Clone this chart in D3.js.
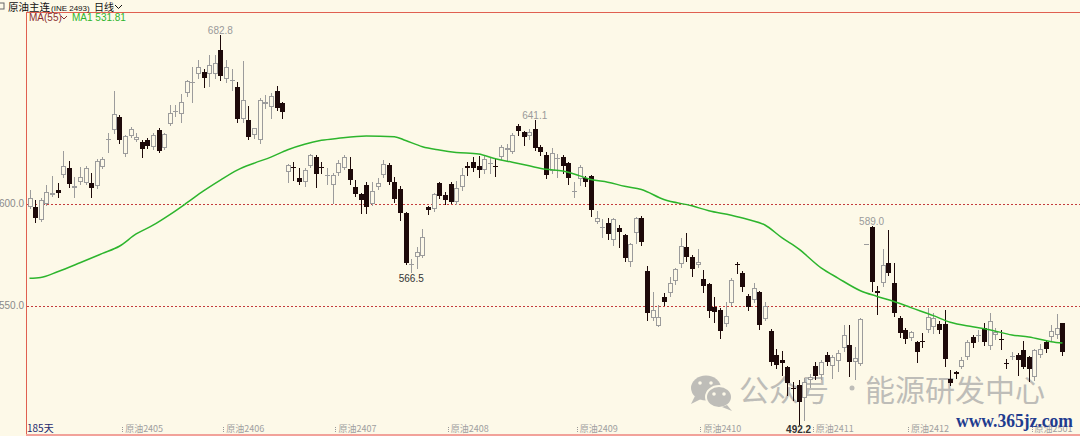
<!DOCTYPE html>
<html><head><meta charset="utf-8">
<script src="https://cdn.jsdelivr.net/npm/d3@7"></script>
<style>html,body{margin:0;padding:0;background:#fdf9e8;}svg{display:block}</style>
</head><body><svg id="c" width="1080" height="436"></svg>
<script>
// ---- data ----
const openV = [
598.4,598.4,592.2,599.8,604.4,606.9,614.0,617.8,608.0,610.6,
610.3,610.1,609.0,618.3,631.4,636.3,642.5,624.3,633.5,631.6,
630.5,631.4,627.8,636.3,627.6,639.4,645.0,644.2,654.4,659.3,
663.5,664.7,663.6,663.5,675.3,661.1,660.6,657.4,641.6,641.2,
634.0,631.4,649.0,647.4,655.6,649.3,615.5,618.3,612.9,610.6,
618.6,623.2,618.3,613.7,609.5,615.4,617.8,617.0,608.3,604.7,
609.3,600.0,608.5,614.2,619.1,611.0,607.2,595.4,570.4,574.2,
574.5,598.4,597.4,610.1,604.4,609.8,601.1,608.5,618.6,620.4,
618.8,616.7,619.7,618.8,623.2,626.5,625.6,638.2,635.1,633.5,
636.8,628.1,624.0,616.3,621.9,623.2,619.9,606.0,612.1,612.6,
613.7,591.3,588.5,590.8,582.4,588.4,584.8,571.7,585.6,593.3,
567.3,544.0,540.2,554.6,556.2,562.3,570.4,579.1,573.9,570.1,
563.1,560.6,549.7,548.0,541.2,551.3,570.4,566.3,554.9,552.9,
556.7,543.6,537.9,526.0,523.5,520.0,510.0,511.3,504.7,513.5,
520.8,516.2,526.0,520.8,523.2,529.6,530.9,522.7,521.6,580.2,
588.9,557.5,561.4,570.9,561.4,544.3,538.2,534.2,532.5,532.7,
538.2,539.5,541.2,541.2,514.0,517.8,520.3,525.2,535.0,535.5,
539.4,530.4,535.8,533.7,521.9,525.2,526.0,528.4,524.8,515.4,
526.0,532.2,534.6,535.8,541.5];
const highV = [
606.9,602.0,603.0,609.3,613.7,610.5,625.8,621.2,613.4,618.3,
618.8,615.0,622.0,623.2,634.6,655.6,643.5,634.0,637.9,634.6,
631.2,632.4,635.0,637.5,635.0,648.5,648.5,654.0,660.8,667.3,
670.6,666.0,673.0,673.2,682.8,670.6,666.0,660.0,670.3,648.0,
637.5,651.8,653.4,654.2,657.8,650.0,619.6,620.8,617.5,617.5,
624.5,624.0,620.8,617.5,615.0,621.6,624.0,623.2,611.8,605.5,
611.0,611.0,612.6,621.6,620.0,613.4,609.0,596.0,573.0,579.0,
587.6,599.0,605.2,611.0,606.0,611.0,611.3,617.8,620.8,623.2,
623.5,624.0,623.2,622.4,628.9,629.4,634.6,639.2,636.0,637.0,
641.1,628.8,625.7,627.3,624.5,624.0,620.5,611.0,619.1,613.7,
614.2,596.7,592.5,593.0,593.3,589.7,585.5,581.0,593.8,594.0,
569.6,557.0,550.5,556.2,564.4,568.5,583.2,585.6,575.0,577.8,
567.6,561.5,554.6,549.0,552.1,563.5,571.7,567.3,556.0,561.4,
557.5,552.1,538.5,528.8,528.1,520.5,512.9,513.7,514.5,516.5,
522.7,523.4,527.6,526.0,528.5,540.7,540.7,530.0,544.0,580.2,
589.0,559.8,577.8,587.3,570.9,545.0,539.0,537.9,533.0,536.9,
548.9,546.5,542.8,548.0,518.6,518.2,525.2,533.5,535.8,538.0,
541.5,546.7,539.0,538.2,523.9,527.6,526.8,533.0,525.5,528.8,
531.6,533.0,540.7,545.9,541.8];
const lowV = [
598.0,591.0,591.8,599.4,603.8,603.6,613.0,608.5,603.3,610.0,
609.6,603.6,608.0,617.5,625.6,635.0,629.7,623.5,633.0,631.0,
623.2,627.5,627.0,625.5,627.0,638.5,643.0,640.0,653.0,650.0,
662.0,657.5,658.0,662.0,660.8,659.8,655.7,640.0,640.0,631.7,
632.5,629.7,647.0,642.0,646.0,642.0,610.6,611.8,610.0,609.0,
618.0,608.5,615.0,610.0,600.3,614.0,617.0,610.0,604.0,595.8,
595.4,599.5,607.5,613.0,610.0,601.0,592.2,570.5,566.5,568.5,
574.0,595.0,596.5,603.0,600.0,600.3,600.0,607.0,614.2,616.0,
613.0,615.0,615.0,613.7,622.0,621.6,625.0,634.0,628.9,632.0,
626.5,624.0,612.6,615.0,613.0,615.0,610.0,603.6,609.3,609.0,
594.1,590.5,584.0,583.0,580.0,579.0,572.0,569.8,580.7,580.0,
543.1,543.0,540.0,550.5,555.0,561.0,569.0,572.0,564.7,569.0,
557.0,544.8,542.3,534.2,540.0,550.5,566.0,557.5,548.0,552.0,
538.6,543.0,521.0,519.4,516.2,506.4,503.9,492.2,494.0,510.5,
514.0,514.0,521.0,514.5,518.0,528.0,515.7,514.0,521.0,580.2,
557.5,545.9,560.0,565.0,545.0,535.0,532.0,533.5,522.7,530.1,
537.5,537.0,537.0,520.6,511.5,514.5,519.5,524.0,530.0,533.0,
531.0,529.0,534.0,528.8,519.4,524.0,516.2,519.5,513.0,513.7,
525.0,527.5,533.0,534.5,526.0];
const closeV = [
603.1,593.3,601.8,606.0,605.6,605.6,618.7,609.6,608.8,613.0,
617.6,608.0,621.3,621.9,631.9,644.1,631.4,633.3,636.6,632.7,
626.9,628.6,633.6,626.2,634.2,644.8,645.7,649.8,660.3,660.0,
667.0,662.0,668.0,669.3,662.9,667.0,660.9,641.6,651.0,632.6,
637.3,651.0,649.8,652.7,647.0,645.3,619.1,617.5,610.6,616.7,
624.0,614.5,617.8,614.2,614.2,619.9,623.2,611.8,604.9,602.0,
598.7,606.5,610.1,619.4,611.0,602.5,595.4,571.2,570.6,576.6,
583.7,597.0,604.7,604.1,602.0,601.1,608.0,614.2,617.5,617.5,
616.7,622.0,620.2,618.3,628.1,627.3,633.8,635.9,633.0,635.5,
627.6,625.7,614.2,624.8,622.7,618.6,612.6,606.5,618.3,610.9,
597.0,593.0,588.8,585.1,592.5,586.1,573.4,580.2,593.3,581.5,
546.7,548.0,544.8,552.1,561.1,568.0,579.4,573.9,568.0,571.7,
560.0,547.5,546.9,537.9,545.1,562.7,570.1,559.2,549.7,558.7,
540.7,550.0,522.7,521.1,521.9,512.4,509.8,503.1,512.9,515.2,
515.7,522.7,522.7,525.2,527.1,535.8,522.7,524.3,543.6,580.2,
561.9,556.6,570.1,566.3,546.4,536.6,533.7,537.1,527.6,532.3,
544.8,544.3,538.2,523.9,512.1,516.7,523.5,532.3,531.7,535.8,
532.5,542.8,537.4,533.3,521.6,525.7,523.5,520.3,519.0,528.4,
528.8,528.9,537.9,539.1,527.6];
// MA(55) line, read at candle indices
const maIdx = [0,2,5,9,13,16,19,22,25,28,31,34,37,40,43,46,49,52,55,60,65,67,70,73,76,80,83,86,89,92,95,98,100,103,106,109,113,118,121,125,128,131,134,137,141,144,148,151,154,157,161,164,168,171,175,178,182,184];
const maVal = [563.6,564.0,566.8,571.2,575.8,579.3,585.3,589.6,594.8,600.5,606.4,611.7,616.6,620.0,623.0,626.6,629.3,631.2,632.2,633.3,633.0,631.1,628.1,626.5,625.3,624.5,622.2,620.5,618.7,617.0,616.2,613.8,612.0,610.7,608.7,607.1,602.2,599.1,596.7,594.5,592.4,589.7,583.5,578.0,568.7,563.7,557.5,554.7,552.2,549.2,545.3,542.0,539.8,538.4,535.8,534.8,532.5,531.81];
const tickIdx = [17,35,55,75,98,120,140,157,179];
const tickLabels = ["原油2405","原油2406","原油2407","原油2408","原油2409","原油2410","原油2411","原油2412","原油2501"];
const yTicks = [600, 550];
const highMarks = [34, 90, 150];
const lowMarks = [68, 137];

// ---- drawing ----
const W = 1080, H = 436, N = closeV.length;
const BG = "#fdf9e8";
const svg = d3.select("#c");
svg.append("rect").attr("width", W).attr("height", H).attr("fill", BG);

const x = d3.scaleBand().domain(d3.range(N)).range([26.7, 26.7 + N * 5.614]).padding(0);
const cx = i => x(i) + x.bandwidth() / 2;
const y = d3.scaleLinear().domain([550, 600]).range([306, 204]);

// frame lines
svg.append("line").attr("x1", 26).attr("x2", W).attr("y1", 12.5).attr("y2", 12.5).attr("stroke", "#e06050");
svg.append("line").attr("x1", 26.5).attr("x2", 26.5).attr("y1", 12).attr("y2", H).attr("stroke", "#e06050");
svg.append("line").attr("x1", 26).attr("x2", W).attr("y1", 435).attr("y2", 435).attr("stroke", "#f2a29a").attr("stroke-width", 2);

// horizontal grid (dashed)
svg.selectAll(".grid").data(yTicks).enter().append("line")
  .attr("x1", 27).attr("x2", W)
  .attr("y1", d => Math.round(y(d)) + 0.5).attr("y2", d => Math.round(y(d)) + 0.5)
  .attr("stroke", "#c43c3c").attr("stroke-dasharray", "2,2");
svg.selectAll(".ylab").data(yTicks).enter().append("text")
  .attr("x", 24).attr("y", d => y(d)).attr("text-anchor", "end").attr("dominant-baseline", "middle")
  .attr("font-family", "Liberation Sans, Arial, sans-serif").attr("font-size", 10)
  .attr("fill", "#8a8a8a").text(d => d.toFixed(1));

// watermark
const wm = svg.append("g").attr("opacity", 0.75);
const ox = 5;
wm.append("ellipse").attr("cx", 701 + ox).attr("cy", 388).attr("rx", 15).attr("ry", 12.5).attr("fill", "#a9a9a9");
wm.append("path").attr("d", `M${690+ox},396 L${686+ox},404 L${696+ox},399 Z`).attr("fill", "#a9a9a9");
wm.append("ellipse").attr("cx", 714 + ox).attr("cy", 397).attr("rx", 13).attr("ry", 11).attr("fill", "#a9a9a9").attr("stroke", BG).attr("stroke-width", 2);
wm.append("path").attr("d", `M${722+ox},405 L${727+ox},411 L${717+ox},407 Z`).attr("fill", "#a9a9a9");
[[695,383],[706,383],[709,394],[719,394]].forEach(p => wm.append("circle").attr("cx", p[0] + ox).attr("cy", p[1]).attr("r", 1.8).attr("fill", BG));
wm.append("text").attr("x", 739).attr("y", 401).attr("font-family", "Noto Sans CJK SC").attr("font-size", 30).attr("fill", "#a9a9a9").text("公众号");
wm.append("circle").attr("cx", 852).attr("cy", 388).attr("r", 2.5).attr("fill", "#a9a9a9");
wm.append("text").attr("x", 865).attr("y", 401).attr("font-family", "Noto Sans CJK SC").attr("font-size", 30).attr("fill", "#a9a9a9").text("能源研发中心");

// candles
const BEAR = "#1e0a0a", BULL = "#9c9c9c";
const g = svg.append("g");
d3.range(N).forEach(i => {
  const o = openV[i], c = closeV[i], h = highV[i], l = lowV[i];
  const px = Math.round(cx(i));
  const up = c >= o;
  const col = up ? BULL : BEAR;
  g.append("line").attr("x1", px + 0.5).attr("x2", px + 0.5)
    .attr("y1", Math.round(y(h))).attr("y2", Math.round(y(l)) + 1).attr("stroke", col);
  const top = Math.round(y(Math.max(o, c))), bot = Math.round(y(Math.min(o, c)));
  if (bot - top < 2) {
    g.append("rect").attr("x", px - 2).attr("y", top).attr("width", 5).attr("height", 1).attr("fill", col);
  } else if (up) {
    g.append("rect").attr("x", px - 1.5).attr("y", top + 0.5).attr("width", 4).attr("height", bot - top - 1)
      .attr("fill", BG).attr("stroke", BULL);
  } else {
    g.append("rect").attr("x", px - 2).attr("y", top).attr("width", 5).attr("height", bot - top).attr("fill", BEAR);
  }
});

// MA line
const maPts = maIdx.map((d, k) => [d, maVal[k]]);
svg.append("path").datum(maPts)
  .attr("d", d3.line().x(d => cx(d[0])).y(d => y(d[1])).curve(d3.curveMonotoneX))
  .attr("fill", "none").attr("stroke", "#2db52d").attr("stroke-width", 1.5);

// high / low marks
svg.selectAll(".hm").data(highMarks).enter().append("text")
  .attr("x", d => cx(d)).attr("y", d => y(highV[d]) - 1.5).attr("text-anchor", "middle")
  .attr("font-family", "Liberation Sans, Arial, sans-serif").attr("font-size", 10).attr("fill", "#9a9a9a")
  .text(d => highV[d].toFixed(1));
svg.selectAll(".lm").data(lowMarks).enter().append("text")
  .attr("x", d => cx(d)).attr("y", d => y(lowV[d]) + 9.5).attr("text-anchor", "middle")
  .attr("font-family", "Liberation Sans, Arial, sans-serif").attr("font-size", 10)
  .attr("font-weight", (d, k) => k === 1 ? "bold" : "normal").attr("fill", "#333")
  .text(d => lowV[d].toFixed(1));

// x axis
const xt = svg.selectAll(".xt").data(tickIdx).enter().append("g");
xt.append("line").attr("x1", d => Math.round(x(d)) + 0.5).attr("x2", d => Math.round(x(d)) + 0.5)
  .attr("y1", 427).attr("y2", 433).attr("stroke", "#999").attr("stroke-dasharray", "1,1");
xt.append("text").attr("x", d => x(d) + 3).attr("y", 432)
  .attr("font-family", "Noto Sans CJK SC").attr("font-size", 9).attr("fill", "#a0a0a0")
  .text((d, k) => tickLabels[k]);
svg.append("text").attr("x", 27).attr("y", 432).attr("font-family", "Noto Sans CJK SC")
  .attr("font-size", 10).attr("fill", "#1e2a6e").text(N + "天");

// url watermark
svg.append("text").attr("x", 956).attr("y", 427).attr("font-family", "Liberation Serif, serif")
  .attr("font-weight", "bold").attr("font-size", 18).attr("fill", "#1f3c8f")
  .attr("textLength", 117).attr("lengthAdjust", "spacingAndGlyphs").text("www.365jz.com");

// header
svg.append("rect").attr("x", -1).attr("y", 3).attr("width", 5).attr("height", 6).attr("fill", "none").attr("stroke", "#666");
svg.append("text").attr("x", 8).attr("y", 10.5).attr("font-family", "Noto Sans CJK SC").attr("font-size", 10.5).attr("fill", "#111").text("原油主连");
svg.append("text").attr("x", 51).attr("y", 10.5).attr("font-family", "Liberation Sans, Arial, sans-serif").attr("font-size", 8).attr("fill", "#111").text("(INE 2493)");
svg.append("text").attr("x", 94).attr("y", 10.5).attr("font-family", "Noto Sans CJK SC").attr("font-size", 10).attr("fill", "#111").text("日线");
svg.append("path").attr("d", "M115,5 L118.5,8.5 L122,5").attr("fill", "none").attr("stroke", "#111");
svg.append("text").attr("x", 29).attr("y", 21).attr("font-family", "Liberation Sans, Arial, sans-serif").attr("font-size", 10).attr("fill", "#8b3030").text("MA(55)");
svg.append("path").attr("d", "M61,16 L64,19 L67,16").attr("fill", "none").attr("stroke", "#8b3030");
svg.append("text").attr("x", 72).attr("y", 21).attr("font-family", "Liberation Sans, Arial, sans-serif").attr("font-size", 10).attr("fill", "#2db52d").text("MA1 " + maVal[maVal.length - 1].toFixed(2));
</script></body></html>
